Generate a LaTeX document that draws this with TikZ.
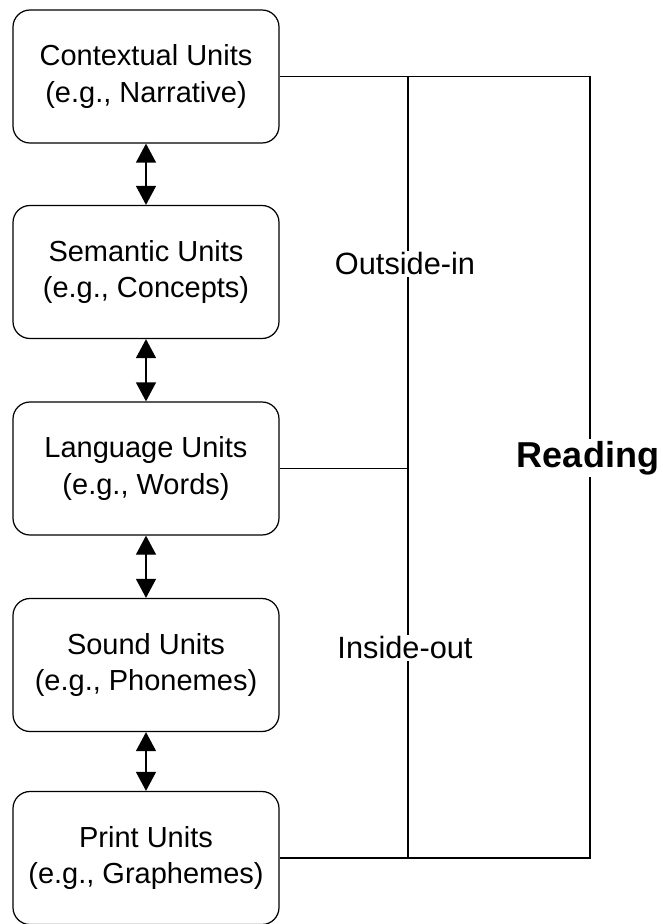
\documentclass[tikz,border=0pt]{standalone}
\usepackage{fontspec}
\setmainfont{Liberation Sans}
\usetikzlibrary{arrows.meta}

\begin{document}
\begin{tikzpicture}[
        unitbox/.style={draw, rounded corners=0.34cm, line width=0.7pt, minimum width=5.32cm, minimum height=2.66cm, align=center, font=\fontsize{16.5}{20.5}\selectfont},
        twoway/.style={line width=0.7pt, {Triangle[width=0.4cm, length=0.38cm]}-{Triangle[width=0.4cm, length=0.38cm]}},
        rule/.style={line width=0.7pt},
        side/.style={fill=white, inner sep=1pt, font=\fontsize{17.5}{21}\selectfont}
    ]
                    \useasboundingbox (0, 0) rectangle (13.24, -18.48);
                    \node[unitbox] (ctx) at (2.92, -1.53) {Contextual Units\\(e.g., Narrative)};
                    \node[unitbox] (sem) at (2.92, -5.44) {Semantic Units\\(e.g., Concepts)};
                    \node[unitbox] (lng) at (2.92, -9.37) {Language Units\\(e.g., Words)};
                    \node[unitbox] (snd) at (2.92, -13.30) {Sound Units\\(e.g., Phonemes)};
                    \node[unitbox] (prt) at (2.92, -17.16) {Print Units\\(e.g., Graphemes)};
                    \draw[twoway] (ctx.south) -- (sem.north);
                    \draw[twoway] (sem.south) -- (lng.north);
                    \draw[twoway] (lng.south) -- (snd.north);
                    \draw[twoway] (snd.south) -- (prt.north);
                    \coordinate (innertop) at (8.16, -1.53);
                    \coordinate (innerbot) at (8.16, -17.16);
                    \coordinate (outertop) at (11.8, -1.53);
                    \coordinate (outerbot) at (11.8, -17.16);
                    \draw[rule] (ctx.east) -- (outertop) -- (outerbot) -- (prt.east);
                    \draw[rule] (innertop) -- (innerbot);
                    \draw[rule] (lng.east) -- (lng.east -| innertop);
                    \node[side] (outin) at (8.1, -5.28) {Outside-in};
                    \node[side] (inout) at (8.1, -12.96) {Inside-out};
                    \node[side, font=\fontsize{20.5}{24}\selectfont\bfseries] (read) at (11.76, -9.16) {Reading};
                \end{tikzpicture}
\end{document}
